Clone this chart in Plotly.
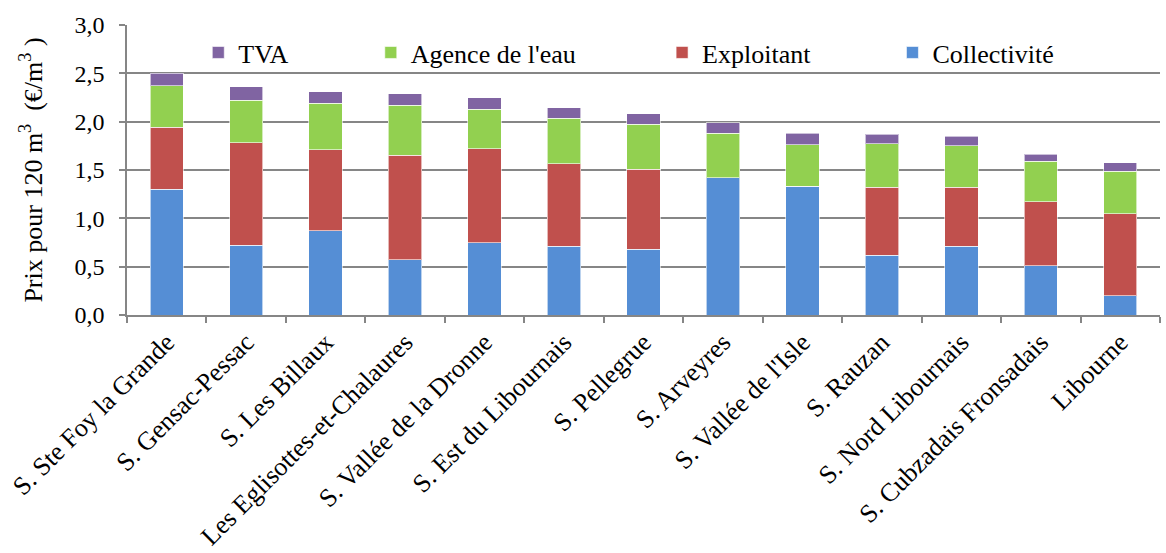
import plotly.graph_objects as go

categories = [
    "S. Ste Foy la Grande", "S. Gensac-Pessac", "S. Les Billaux",
    "Les Eglisottes-et-Chalaures", "S. Vallée de la Dronne", "S. Est du Libournais",
    "S. Pellegrue", "S. Arveyres", "S. Vallée de l'Isle", "S. Rauzan",
    "S. Nord Libournais", "S. Cubzadais Fronsadais", "Libourne",
]
collectivite = [1.30, 0.72, 0.87, 0.57, 0.75, 0.71, 0.68, 1.42, 1.33, 0.62, 0.71, 0.51, 0.20]
exploitant = [0.64, 1.06, 0.84, 1.085, 0.97, 0.855, 0.83, 0.0, 0.0, 0.70, 0.61, 0.66, 0.85]
agence = [0.43, 0.44, 0.48, 0.515, 0.41, 0.47, 0.465, 0.46, 0.43, 0.45, 0.43, 0.42, 0.435]
tva = [0.13, 0.14, 0.12, 0.12, 0.115, 0.11, 0.105, 0.11, 0.12, 0.10, 0.10, 0.075, 0.09]
y_ticks = [0, 0.5, 1.0, 1.5, 2.0, 2.5, 3.0]
y_ticklabels = ["0,0", "0,5", "1,0", "1,5", "2,0", "2,5", "3,0"]

# (name, values, colour, legend id, legend x in paper coords)
series = [
    ("Collectivité", collectivite, "#558ED5", "legend4", 0.741),
    ("Exploitant", exploitant, "#C0504D", "legend3", 0.518),
    ("Agence de l'eau", agence, "#92D050", "legend2", 0.236),
    ("TVA", tva, "#8064A2", "legend", 0.069),
]

font = "Liberation Serif, Times New Roman, serif"

fig = go.Figure()
legends = {}
for name, vals, color, leg, lx in series:
    fig.add_trace(go.Bar(
        x=categories, y=vals, name=name, legend=leg,
        marker=dict(color=color, line=dict(color="rgba(255,255,255,0.6)", width=1)),
    ))
    legends[leg] = dict(
        x=lx, y=0.905, xanchor="left", yanchor="middle", orientation="h",
        bgcolor="rgba(0,0,0,0)", font=dict(family=font, size=26, color="black"),
        itemwidth=30,
    )

fig.update_layout(
    barmode="stack",
    bargap=0.58,
    showlegend=True,
    width=1166, height=553,
    margin=dict(l=127, r=6, t=25, b=238),
    paper_bgcolor="white", plot_bgcolor="white",
    font=dict(family=font, size=24, color="black"),
    **legends,
)
fig.update_xaxes(
    tickangle=-45, tickfont=dict(family=font, size=26),
    showline=True, linecolor="#868686", linewidth=1.5,
    ticks="outside", tickson="boundaries", ticklen=6, tickcolor="#868686", tickwidth=1.5,
    showgrid=False, automargin=False,
)
fig.update_yaxes(
    range=[0, 3.0], tickvals=y_ticks, ticktext=y_ticklabels,
    tickfont=dict(family=font, size=24),
    showgrid=True, gridcolor="#868686", gridwidth=1.5,
    showline=True, linecolor="#868686", linewidth=1.5,
    ticks="outside", ticklen=6, tickcolor="#868686", tickwidth=1.5,
    ticklabelstandoff=10,
    zeroline=False, automargin=False,
    title=dict(text="Prix pour 120 m<sup>3</sup>  (€/m<sup>3</sup> )",
               font=dict(family=font, size=26), standoff=24),
)

# drop the page's default body margin so the figure sits at the window origin
fig.write_html("out.html", config={"displayModeBar": False},
               post_script="document.body.style.margin='0px';")
